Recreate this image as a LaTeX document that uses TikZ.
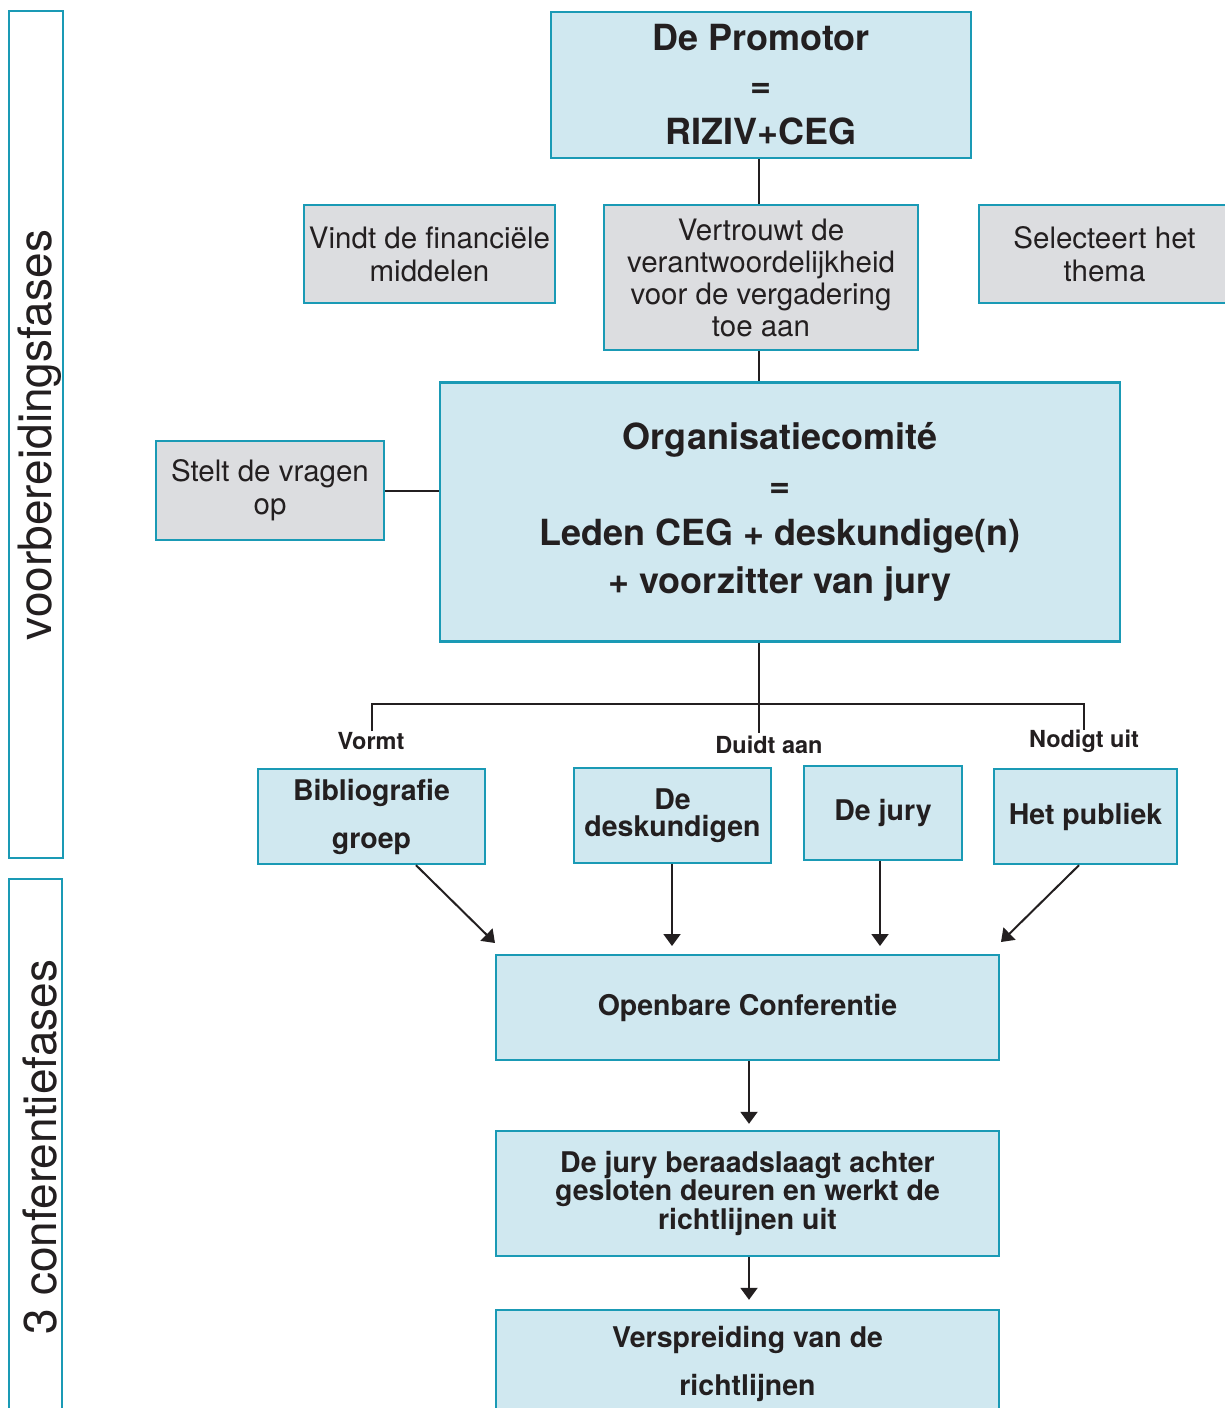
\documentclass[tikz,border=0pt]{standalone}
\usepackage{fontspec}
\setmainfont{TeX Gyre Heros}
\usetikzlibrary{arrows.meta}
\definecolor{boxblue}{HTML}{D0E8F0}
\definecolor{boxgrey}{HTML}{DCDDE0}
\definecolor{boxline}{HTML}{1A9AB5}
\definecolor{ink}{HTML}{231F20}
\begin{document}
\begin{tikzpicture}[x=1pt,y=-1pt,
  bluebox/.style={draw=boxline,fill=boxblue,line width=2.4pt,inner sep=0pt,align=center,text=ink},
  greybox/.style={draw=boxline,fill=boxgrey,line width=2.4pt,inner sep=0pt,align=center,text=ink},
  sidebox/.style={draw=boxline,fill=white,line width=2.4pt,inner sep=0pt},
  sidetext/.style={text=ink,rotate=90,font=\fontsize{46}{46}\selectfont,inner sep=0pt},
  conn/.style={draw=ink,line width=2pt},
  arr/.style={draw=ink,line width=2pt,-{Triangle[width=17pt,length=12pt]}},
  lbl/.style={text=ink,font=\bfseries\fontsize{23.5}{26}\selectfont,inner sep=0pt}
]
\useasboundingbox (0,0) rectangle (1224,1408);
\fill[white] (0,0) rectangle (1224,1408);

% side boxes
\node[sidebox,minimum width=54pt,minimum height=847pt] (sideA) at (36,434.5) {};
\node[sidetext] (sideAt) at (40,435) {voorbereidingsfases};
\node[sidebox,minimum width=53pt,minimum height=536pt] (sideB) at (35.5,1147) {};
\node[sidetext] (sideBt) at (40,1147) {3 conferentiefases};

% top
\node[bluebox,minimum width=420pt,minimum height=146pt,font=\bfseries\fontsize{36}{47}\selectfont] (prom) at (761,85) {De Promotor\\=\\RIZIV+CEG};
\node[greybox,minimum width=251pt,minimum height=98pt,font=\fontsize{29.5}{33}\selectfont] (vindt) at (429.5,254) {Vindt de financiële\\middelen};
\node[greybox,minimum width=314pt,minimum height=145pt,font=\fontsize{29.5}{32}\selectfont] (vert) at (761,277.5) {Vertrouwt de\\verantwoordelijkheid\\voor de vergadering\\toe aan};
\node[greybox,minimum width=251pt,minimum height=98pt,font=\fontsize{29.5}{33}\selectfont] (sel) at (1104.5,254) {Selecteert het\\thema};

\node[bluebox,minimum width=680pt,minimum height=259pt,font=\bfseries\fontsize{36}{48}\selectfont] (org) at (780,512) {Organisatiecomité\\=\\Leden CEG + deskundige(n)\\+ voorzitter van jury};
\node[greybox,minimum width=228pt,minimum height=99pt,font=\fontsize{29.5}{33}\selectfont] (stelt) at (270,490.5) {Stelt de vragen\\op};

% middle row
\node[bluebox,minimum width=227pt,minimum height=95pt,font=\bfseries\fontsize{28.5}{48}\selectfont] (bib) at (371.5,816.5) {Bibliografie\\groep};
\node[bluebox,minimum width=197pt,minimum height=95pt,font=\bfseries\fontsize{28.5}{27}\selectfont] (desk) at (672.5,815.5) {De\\deskundigen};
\node[bluebox,minimum width=158pt,minimum height=94pt,font=\bfseries\fontsize{28.5}{27}\selectfont] (jury) at (883,813) {De jury};
\node[bluebox,minimum width=183pt,minimum height=95pt,font=\bfseries\fontsize{28.5}{27}\selectfont] (pub) at (1085.5,816.5) {Het publiek};

\node[lbl] (vormt) at (371,741) {Vormt};
\node[lbl] (duidt) at (769,745) {Duidt aan};
\node[lbl] (nodigt) at (1084,741) {Nodigt uit};

% bottom
\node[bluebox,minimum width=503pt,minimum height=105pt,font=\bfseries\fontsize{28.5}{27}\selectfont] (open) at (747.5,1007.5) {Openbare Conferentie};
\node[bluebox,minimum width=503pt,minimum height=125pt,font=\bfseries\fontsize{28.5}{27}\selectfont] (ber) at (747.5,1193.5) {De jury beraadslaagt achter\\gesloten deuren en werkt de\\richtlijnen uit};
\node[bluebox,minimum width=503pt,minimum height=108pt,font=\bfseries\fontsize{28.5}{48}\selectfont] (vers) at (747.5,1364) {Verspreiding van de\\richtlijnen};

% connectors
\coordinate (jA) at (372,704);
\coordinate (jB) at (1084,704);
\coordinate (dv) at (372,731);
\coordinate (dd) at (759,733);
\coordinate (dn) at (1084,730);
\draw[conn] (prom.south -| 759,0) -- (vert.north -| 759,0);
\draw[conn] (vert.south -| 759,0) -- (org.north -| 759,0);
\draw[conn] (stelt.east) -- (stelt.east -| org.west);
\draw[conn] (org.south -| 759,0) -- (dd);
\draw[conn] (dv) -- (jA) -- (jB) -- (dn);

\coordinate (t1) at (495,943);
\coordinate (t2) at (672,946);
\coordinate (t3) at (880,946);
\coordinate (t4) at (1001,942);
\draw[arr] (bib.south -| 416,0) -- (t1);
\draw[arr] (desk.south -| 672,0) -- (t2);
\draw[arr] (jury.south -| 880,0) -- (t3);
\draw[arr] (pub.south -| 1079,0) -- (t4);
\draw[arr] (open.south -| 749,0) -- ([yshift=6pt]ber.north -| 749,0);
\draw[arr] (ber.south -| 749,0) -- ([yshift=9pt]vers.north -| 749,0);
\end{tikzpicture}
\end{document}
